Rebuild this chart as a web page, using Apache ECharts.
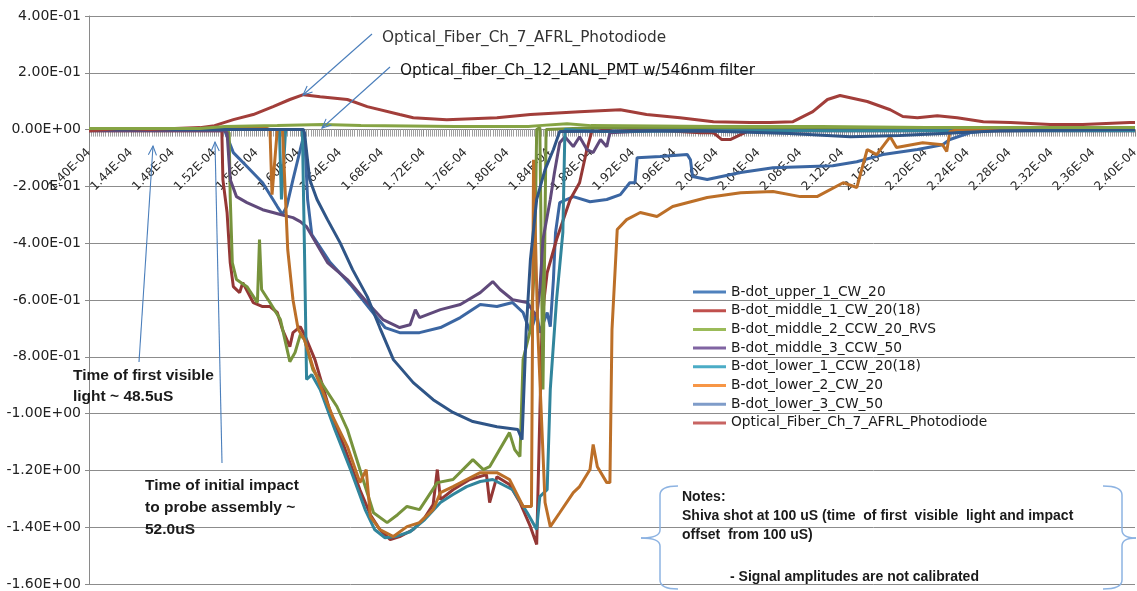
<!DOCTYPE html>
<html>
<head>
<meta charset="utf-8">
<script src="https://cdn.jsdelivr.net/npm/echarts/dist/echarts.min.js"></script>
<style>
html,body{margin:0;padding:0;background:#fff;}
#chart{width:1137px;height:591px;}
</style>
</head>
<body>
<div id="chart"></div>
<script>
// ---- Data (time in microseconds, signal in volts-ish) ----
const seriesNames = [
  'B-dot_upper_1_CW_20',
  'B-dot_middle_1_CW_20(18)',
  'B-dot_middle_2_CCW_20_RVS',
  'B-dot_middle_3_CCW_50',
  'B-dot_lower_1_CCW_20(18)',
  'B-dot_lower_2_CW_20',
  'B-dot_lower_3_CW_50',
  'Optical_Fiber_Ch_7_AFRL_Photodiode'
];
const pmtName = 'Optical_fiber_Ch_12_LANL_PMT w/546nm filter';

const upper1T = [140,152.9,153.0,153.8,155.1,156.6,158.0,158.5,158.9,159.5,160.2,160.6,160.9,161.3,163.0,165.0,166.9,168.3,169.7,171.6,173.6,175.5,177.4,179.0,180.5,181.5,182.2,182.8,183.1,183.8,184.1,184.4,184.6,185.0,186.3,187.9,189.5,190.8,191.7,192.2,192.4,194.6,197.2,197.5,197.7,199.1,202.3,205.4,211.1,213.4,215.9,219.2,221.6,222.3,224.2,227.1,240];
const upper1V = [0.004,0.004,0,-0.081,-0.130,-0.187,-0.271,-0.299,-0.271,-0.176,-0.070,-0.011,-0.246,-0.370,-0.465,-0.546,-0.634,-0.697,-0.715,-0.715,-0.697,-0.662,-0.616,-0.623,-0.609,-0.644,-0.715,-0.644,-0.715,-0.644,-0.694,-0.528,-0.363,-0.257,-0.236,-0.254,-0.246,-0.229,-0.187,-0.187,-0.099,-0.095,-0.088,-0.106,-0.165,-0.176,-0.151,-0.134,-0.127,-0.113,-0.088,-0.070,-0.053,-0.035,-0.011,0,0.004];

const middle1T = [140,152.7,152.8,153.2,153.5,153.8,154.4,154.7,155.7,156.6,157.3,158.0,158.5,159.2,159.5,160.2,160.6,161.6,163.0,164.5,165.9,166.9,167.8,168.8,169.7,171.0,172.1,172.9,173.3,173.6,174.8,176.4,178.0,178.3,179.0,180.2,181.2,182.2,182.8,183.3,183.5,183.8,184.7,186.0,186.9,187.6,188.2,190.2,193.3,198.4,199.7,200.5,201.3,202.9,208.0,217.5,227.1,240];
const middle1V = [-0.004,-0.004,-0.176,-0.292,-0.468,-0.553,-0.574,-0.539,-0.609,-0.623,-0.623,-0.644,-0.704,-0.764,-0.715,-0.694,-0.722,-0.810,-0.986,-1.127,-1.268,-1.356,-1.408,-1.444,-1.433,-1.408,-1.366,-1.320,-1.197,-1.303,-1.268,-1.232,-1.215,-1.313,-1.222,-1.250,-1.313,-1.398,-1.461,-0.704,-0.599,-0.504,-0.387,-0.246,-0.187,-0.070,0.011,-0.007,0,-0.011,-0.011,-0.035,-0.035,-0.007,-0.004,0,-0.004,0];

const middle2T = [140,152.7,153.4,153.5,153.7,154.1,155.1,156.1,156.3,156.5,157.3,158.3,159.2,159.7,160.2,160.6,161.4,163.7,164.7,165.9,167.2,168.5,169.5,170.4,171.6,173.3,174.8,176.7,177.7,178.3,180.2,180.7,181.2,181.5,182.2,182.6,182.8,183.1,183.4,183.7,188.9,240];
const middle2V = [0.004,0.004,-0.011,-0.236,-0.468,-0.528,-0.553,-0.609,-0.387,-0.563,-0.609,-0.669,-0.817,-0.785,-0.722,-0.739,-0.845,-0.975,-1.056,-1.197,-1.349,-1.384,-1.356,-1.327,-1.338,-1.243,-1.232,-1.162,-1.197,-1.187,-1.067,-1.127,-1.151,-0.810,-0.704,-0.482,0,0.007,-0.915,0,0.007,0.007];

const middle3T = [140,152.9,153.2,153.5,154.1,155.1,156.6,158.3,159.5,160.2,160.8,162.8,164.7,166.6,168.1,169.7,170.7,171.2,171.6,173.6,175.5,177.4,178.6,179.3,180.5,181.9,182.8,183.1,183.4,184.1,184.5,185.0,185.5,186.3,186.9,187.6,188.2,188.9,189.5,189.8,193.6,240];
const middle3V = [-0.004,-0.004,-0.011,-0.176,-0.236,-0.257,-0.282,-0.299,-0.310,-0.324,-0.342,-0.468,-0.528,-0.609,-0.669,-0.697,-0.687,-0.634,-0.662,-0.634,-0.616,-0.574,-0.535,-0.563,-0.599,-0.609,-0.658,-0.563,-0.387,-0.246,-0.151,-0.046,-0.025,-0.060,-0.025,-0.070,-0.081,-0.035,-0.060,-0.011,-0.004,-0.004];

const lower1T = [140,158.2,158.4,158.8,160.4,160.6,160.8,161.3,162.1,163.5,165.0,166.4,167.3,168.3,169.3,170.7,172.1,173.6,174.8,176.1,177.4,178.6,180.5,181.9,182.8,183.1,183.8,184.1,184.7,185.3,185.5,188.9,198.4,217.5,240];
const lower1V = [0,0,-0.246,0,0,-0.423,-0.880,-0.863,-0.915,-1.056,-1.197,-1.338,-1.408,-1.437,-1.433,-1.416,-1.373,-1.313,-1.285,-1.257,-1.239,-1.232,-1.268,-1.349,-1.408,-1.292,-1.268,-0.915,-0.599,-0.363,0,-0.007,-0.004,-0.004,-0.004];

const lower2T = [140,157.0,157.3,157.5,158.0,158.5,159.0,159.5,160.0,160.6,161.4,163.3,164.7,165.9,166.5,166.9,167.8,169.1,170.4,171.6,172.9,173.6,174.8,176.1,177.4,179.0,180.2,181.5,182.3,182.5,182.9,183.6,184.1,185.0,186.3,186.9,187.9,188.2,188.6,189.5,189.8,190.0,190.5,191.4,192.7,194.3,195.8,199.1,202.3,205.4,208.0,209.6,212.1,213.4,214.4,215.3,216.6,217.2,219.7,221.6,222.0,222.3,223.0,240];
const lower2V = [0.004,0.004,0,-0.229,0,0,-0.423,-0.599,-0.704,-0.739,-0.835,-1.011,-1.116,-1.243,-1.197,-1.363,-1.408,-1.433,-1.398,-1.384,-1.338,-1.278,-1.257,-1.232,-1.208,-1.208,-1.232,-1.327,-1.327,-0.106,-0.704,-1.313,-1.398,-1.349,-1.278,-1.257,-1.197,-1.109,-1.187,-1.243,-1.243,-0.704,-0.352,-0.317,-0.292,-0.306,-0.271,-0.239,-0.222,-0.218,-0.236,-0.236,-0.187,-0.204,-0.070,-0.088,-0.025,-0.063,-0.046,-0.053,-0.077,-0.007,0,0.004];

const lower3T = [140,160.5,160.6,161.1,161.8,162.8,164.0,165.2,166.6,167.8,169.1,171.0,172.9,174.8,176.7,179.0,181.0,181.4,181.8,182.2,182.8,183.6,184.4,185.0,198.4,207.0,212.8,217.5,227.1,240];
const lower3V = [0,0,-0.011,-0.176,-0.246,-0.317,-0.398,-0.493,-0.588,-0.697,-0.810,-0.891,-0.951,-0.996,-1.028,-1.046,-1.056,-1.092,-0.704,-0.458,-0.246,-0.141,-0.070,-0.007,-0.004,-0.014,-0.025,-0.021,-0.004,0];

const photoT = [140,143.0,145.8,150.6,152.0,153.8,155.7,157.6,159.2,160.5,162.1,164.7,166.6,169.7,171.0,174.2,179.0,182.2,186.9,190.8,193.3,196.5,199.7,203.2,205.1,207.3,209.2,210.6,211.8,214.4,216.6,217.8,219.2,221.1,223.0,225.5,228.1,231.9,235.0,239.5,240];
const photoV = [-0.004,0.004,0,0.007,0.014,0.035,0.053,0.081,0.106,0.123,0.116,0.106,0.081,0.053,0.042,0.035,0.042,0.053,0.063,0.070,0.053,0.042,0.028,0.025,0.025,0.028,0.063,0.106,0.120,0.099,0.070,0.046,0.042,0.049,0.042,0.028,0.025,0.018,0.018,0.025,0.025];

const pmtT = [140,150.6,153.0,158.0,162.4,166.0,175.0,182.0,183.0,185.7,188.0,200.0,210.0,220.0,230.0,240];
const pmtV = [0.004,0.004,0.011,0.014,0.018,0.014,0.011,0.011,0.014,0.021,0.014,0.011,0.011,0.007,0.007,0.007];

// axis ranges (microseconds / signal)
const xMin = 140, xMax = 240, xStep = 4;
const yMin = -1.6, yMax = 0.4, yStep = 0.2;

// ---- layout ----
const gridTop = 16, gridBottom = 7, chartH = 591;
const gridH = chartH - gridTop - gridBottom;
// put the time axis on the zero line (like the original spreadsheet chart)
const xAxisOffset = -gridH * (0 - yMin) / (yMax - yMin);

// ---- styling ----
const lineColors   = ['#3B66A2','#943735','#77933C','#604A7B','#31859C','#BC6F28','#2F5587','#A23E3A'];
const legendColors = ['#4F81BD','#C0504D','#9BBB59','#8064A2','#4BACC6','#F79646','#7F9CC9','#C86462'];
const pmtColor = '#86A444';

function zip(t, v){ const n = Math.min(t.length, v.length); const out=[]; for(let i=0;i<n;i++) out.push([t[i], v[i]]); return out; }
function sci(v){
  if (Math.abs(v) < 1e-12) return '0.00E+00';
  let e = Math.floor(Math.log10(Math.abs(v)) + 1e-9);
  let ms = (v / Math.pow(10, e)).toFixed(2);
  if (Math.abs(parseFloat(ms)) >= 10) { e += 1; ms = (v / Math.pow(10, e)).toFixed(2); }
  return ms + 'E' + (e < 0 ? '-' : '+') + String(Math.abs(e)).padStart(2, '0');
}

const seriesData = [
  zip(upper1T, upper1V), zip(middle1T, middle1V), zip(middle2T, middle2V), zip(middle3T, middle3V),
  zip(lower1T, lower1V), zip(lower2T, lower2V), zip(lower3T, lower3V), zip(photoT, photoV)
];

const series = seriesNames.map((n, i) => ({
  name: n, type: 'line', data: seriesData[i], symbol: 'none', showSymbol: false,
  lineStyle: { color: lineColors[i], width: 3 }, itemStyle: { color: lineColors[i] },
  silent: true, z: 2 + i
}));
series.push({
  name: pmtName, type: 'line', data: zip(pmtT, pmtV), symbol: 'none', showSymbol: false,
  lineStyle: { color: pmtColor, width: 3 }, itemStyle: { color: pmtColor }, silent: true, z: 12
});

// ---- annotations ----
const ARROW = '#4A7EBB';
const BRACE = '#8DB3E2';
function arrowEls(x1, y1, x2, y2){
  const a = Math.atan2(y2 - y1, x2 - x1), L = 10, w = 0.42;
  const p1 = [x2 - L*Math.cos(a - w), y2 - L*Math.sin(a - w)];
  const p2 = [x2 - L*Math.cos(a + w), y2 - L*Math.sin(a + w)];
  return [
    { type: 'line', z: 100, shape: { x1, y1, x2, y2 }, style: { stroke: ARROW, lineWidth: 1.1 } },
    { type: 'polyline', z: 100, shape: { points: [p1, [x2, y2], p2] }, style: { stroke: ARROW, lineWidth: 1.1, fill: null } }
  ];
}
function txt(x, y, s, font, color){
  return { type: 'text', z: 100, x, y,
    style: { text: s, font, fill: color || '#000', textAlign: 'left', textVerticalAlign: 'middle' } };
}
function seg(x1, y1, x2, y2){
  return { type: 'line', z: 100, shape: { x1, y1, x2, y2 }, style: { stroke: BRACE, lineWidth: 1.5 } };
}
function curve(x1, y1, cx, cy, x2, y2){
  return { type: 'bezierCurve', z: 100, shape: { x1, y1, x2, y2, cpx1: cx, cpy1: cy }, style: { stroke: BRACE, lineWidth: 1.5, fill: null } };
}
function brace(xTip, xBar, xMid, yTop, yMidTop, yMid, yMidBot, yBot){
  return [
    curve(xTip, yTop, xBar, yTop, xBar, yTop + 9),
    seg(xBar, yTop + 9, xBar, yMidTop),
    curve(xBar, yMidTop, xBar, yMid, xMid, yMid),
    curve(xMid, yMid, xBar, yMid, xBar, yMidBot),
    seg(xBar, yMidBot, xBar, yBot - 9),
    curve(xBar, yBot - 9, xBar, yBot, xTip, yBot)
  ];
}
const boldFont = 'bold 15.5px "Liberation Sans", Arial, sans-serif';
const noteFont = 'bold 14px "Liberation Sans", Arial, sans-serif';
const annFont = '15.3px "DejaVu Sans", sans-serif';

const graphics = [].concat(
  arrowEls(372, 34, 303, 95),
  arrowEls(390, 67, 322, 128),
  arrowEls(139, 362, 153, 146),
  arrowEls(222, 463, 215, 142),
  brace(678, 660, 641, 486, 530, 538, 546, 589),
  brace(1103, 1122, 1136, 486, 530, 538, 546, 589),
  [
    txt(382, 38, 'Optical_Fiber_Ch_7_AFRL_Photodiode', annFont, '#333'),
    txt(400, 71, 'Optical_fiber_Ch_12_LANL_PMT w/546nm filter', annFont, '#111'),
    txt(73, 376, 'Time of first visible', boldFont, '#1a1a1a'),
    txt(73, 397, 'light ~ 48.5uS', boldFont, '#1a1a1a'),
    txt(145, 486, 'Time of initial impact', boldFont, '#1a1a1a'),
    txt(145, 508, 'to probe assembly ~', boldFont, '#1a1a1a'),
    txt(145, 530, '52.0uS', boldFont, '#1a1a1a'),
    txt(682, 497, 'Notes:', noteFont, '#1a1a1a'),
    txt(682, 516, 'Shiva shot at 100 uS (time  of first  visible  light and impact', noteFont, '#1a1a1a'),
    txt(682, 535, 'offset  from 100 uS)', noteFont, '#1a1a1a'),
    txt(730, 577, '- Signal amplitudes are not calibrated', noteFont, '#1a1a1a')
  ]
);

const option = {
  animation: false,
  backgroundColor: '#ffffff',
  grid: { left: 89, right: 2, top: gridTop, bottom: gridBottom, containLabel: false, outerBoundsMode: 'none' },
  xAxis: {
    type: 'value', min: xMin, max: xMax, interval: xStep, position: 'bottom', offset: xAxisOffset,
    axisLine: { onZero: false, lineStyle: { color: '#8a8a8a', width: 1 } },
    axisTick: { show: true, length: 7, lineStyle: { color: '#8a8a8a' } },
    minorTick: { show: true, splitNumber: 20, length: 7, lineStyle: { color: '#a0a0a0' } },
    splitLine: { show: false },
    axisLabel: { rotate: 45, margin: 21, color: '#2a2a2a', fontFamily: 'DejaVu Sans', fontSize: 12,
      formatter: v => sci(v * 1e-6), showMinLabel: true, showMaxLabel: true }
  },
  yAxis: {
    type: 'value', min: yMin, max: yMax, interval: yStep,
    axisLine: { show: true, onZero: false, lineStyle: { color: '#8a8a8a', width: 1 } },
    axisTick: { show: true, length: 4, lineStyle: { color: '#8a8a8a' } },
    splitLine: { show: true, lineStyle: { color: '#8c8c8c', width: 1 } },
    axisLabel: { margin: 8, color: '#222', fontFamily: 'DejaVu Sans', fontSize: 14, formatter: v => sci(v) }
  },
  legend: {
    orient: 'vertical', left: 693, top: 285, padding: 0, itemGap: 4.7,
    itemWidth: 33, itemHeight: 14,
    textStyle: { fontFamily: 'DejaVu Sans', fontSize: 13.8, color: '#1a1a1a', lineHeight: 14 },
    data: seriesNames.map((n, i) => ({ name: n, icon: 'path://M0,0 L33,0 L33,3 L0,3 Z',
      itemStyle: { color: legendColors[i] }, lineStyle: { color: legendColors[i] } }))
  },
  series,
  graphic: graphics
};

const chart = echarts.init(document.getElementById('chart'), null, { renderer: 'canvas' });
chart.setOption(option);
</script>
</body>
</html>
